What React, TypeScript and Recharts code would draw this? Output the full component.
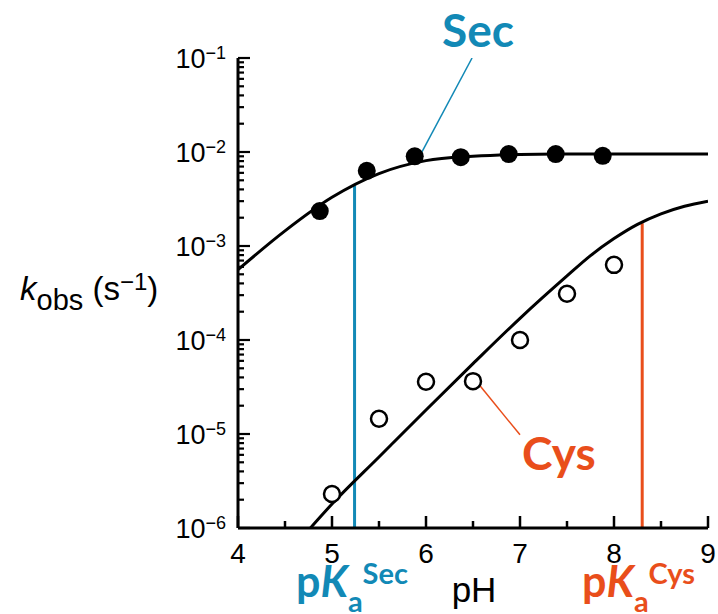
import { ComposedChart, Line, Scatter, XAxis, YAxis } from 'recharts';

// axis ticks
const PH_TICKS = [4, 4.5, 5, 5.5, 6, 6.5, 7, 7.5, 8, 8.5, 9];
const K_DECADES = [-6, -5, -4, -3, -2, -1];
const K_MINOR = [2, 3, 4, 5, 6, 7, 8, 9];

// measured rates (filled = Sec, open = Cys)
const SEC_PH = [4.87, 5.37, 5.88, 6.37, 6.88, 7.38, 7.88];
const SEC_KOBS = [2.35e-3, 6.3e-3, 9.0e-3, 8.8e-3, 9.5e-3, 9.5e-3, 9.1e-3];
const CYS_PH = [5, 5.5, 6, 6.5, 7, 7.5, 8];
const CYS_KOBS = [2.3e-6, 1.45e-5, 3.6e-5, 3.65e-5, 1.0e-4, 3.1e-4, 6.3e-4];

// fitted curves
const SEC_FIT_PH = [4, 4.5, 5, 5.5, 6, 6.5, 7, 7.5, 8, 8.5, 9];
const SEC_FIT_KOBS = [5.6e-4, 1.45e-3, 3.3e-3, 5.9e-3, 8.1e-3, 9.0e-3, 9.4e-3, 9.5e-3, 9.5e-3, 9.5e-3, 9.5e-3];
const CYS_FIT_PH = [4.77, 5, 5.5, 6, 6.5, 7, 7.5, 7.75, 8, 8.25, 8.5, 8.75, 9];
const CYS_FIT_KOBS = [1.0e-6, 1.8e-6, 5.7e-6, 1.8e-5, 5.6e-5, 1.7e-4, 4.8e-4, 7.9e-4, 1.2e-3, 1.7e-3, 2.2e-3, 2.65e-3, 3.0e-3];

// pKa markers and label leaders
const PKA_SEC_PH = [5.24, 5.24];
const PKA_SEC_KOBS = [1e-6, 4.4e-3];
const PKA_CYS_PH = [8.3, 8.3];
const PKA_CYS_KOBS = [1e-6, 1.75e-3];
const SEC_LEADER_PH = [6.49, 5.94];
const SEC_LEADER_KOBS = [1e-1, 9.3e-3];
const CYS_LEADER_PH = [6.57, 7.0];
const CYS_LEADER_KOBS = [3.3e-5, 9.8e-6];

const COLORS = {
  ink: '#000000',
  sec: '#1289b6',
  cys: '#e94e1b',
};

const AXIS_FONT = '"Liberation Sans", Arial, sans-serif';
const LABEL_FONT = 'Lato, "Open Sans", sans-serif';

const toPoints = (ph: number[], k: number[]) => ph.map((p, i) => ({ ph: p, k: k[i] }));

const K_TICKS = K_DECADES.flatMap((d) =>
  d === -1 ? [10 ** d] : [10 ** d, ...K_MINOR.map((m) => m * 10 ** d)],
);

function PhTick({ x, y, payload }: any) {
  const v = payload.value as number;
  const major = Number.isInteger(v);
  return (
    <g>
      <line x1={x} x2={x} y1={y} y2={y - (major ? 12 : 7)} stroke={COLORS.ink} strokeWidth={2.5} />
      {major && (
        <text x={x} y={y + 35} textAnchor="middle" fontSize={28} fontFamily={AXIS_FONT} fill={COLORS.ink}>
          {v}
        </text>
      )}
    </g>
  );
}

function KTick({ x, y, payload }: any) {
  const exp = Math.log10(payload.value);
  const major = Math.abs(exp - Math.round(exp)) < 1e-9;
  return (
    <g>
      <line x1={x} x2={x + (major ? 12 : 6)} y1={y} y2={y} stroke={COLORS.ink} strokeWidth={2.2} />
      {major && (
        <text x={x - 12} y={y + 10} textAnchor="end" fontSize={27} fontFamily={AXIS_FONT} fill={COLORS.ink}>
          <tspan>10</tspan>
          <tspan fontSize={18} dy={-9}>{`\u2212${-Math.round(exp)}`}</tspan>
        </text>
      )}
    </g>
  );
}

const FilledDot = ({ cx, cy }: any) => <circle cx={cx} cy={cy} r={9} fill={COLORS.ink} />;
const OpenDot = ({ cx, cy }: any) => (
  <circle cx={cx} cy={cy} r={8} fill="#fff" stroke={COLORS.ink} strokeWidth={2.5} />
);

export default function App() {
  return (
    <div style={{ position: 'absolute', left: 0, top: 0, width: 718, height: 614, background: '#fff' }}>
      <ComposedChart width={718} height={614} margin={{ top: 58, right: 10, bottom: 0, left: 0 }}>
        <XAxis
          type="number"
          dataKey="ph"
          domain={[4, 9]}
          ticks={PH_TICKS}
          interval={0}
          allowDataOverflow
          height={86}
          tickSize={0}
          tickMargin={0}
          tickLine={false}
          axisLine={{ stroke: COLORS.ink, strokeWidth: 3 }}
          tick={<PhTick />}
        />
        <YAxis
          type="number"
          dataKey="k"
          scale="log"
          domain={[1e-6, 1e-1]}
          ticks={K_TICKS}
          interval={0}
          allowDataOverflow
          width={238}
          tickSize={0}
          tickMargin={0}
          tickLine={false}
          axisLine={{ stroke: COLORS.ink, strokeWidth: 3 }}
          tick={<KTick />}
        />
        <Line data={toPoints(PKA_SEC_PH, PKA_SEC_KOBS)} dataKey="k" type="linear" stroke={COLORS.sec} strokeWidth={3} dot={false} isAnimationActive={false} />
        <Line data={toPoints(PKA_CYS_PH, PKA_CYS_KOBS)} dataKey="k" type="linear" stroke={COLORS.cys} strokeWidth={3} dot={false} isAnimationActive={false} />
        <Line data={toPoints(SEC_LEADER_PH, SEC_LEADER_KOBS)} dataKey="k" type="linear" stroke={COLORS.sec} strokeWidth={1.5} dot={false} isAnimationActive={false} />
        <Line data={toPoints(CYS_LEADER_PH, CYS_LEADER_KOBS)} dataKey="k" type="linear" stroke={COLORS.cys} strokeWidth={1.5} dot={false} isAnimationActive={false} />
        <Line data={toPoints(SEC_FIT_PH, SEC_FIT_KOBS)} dataKey="k" type="monotone" stroke={COLORS.ink} strokeWidth={3} dot={false} isAnimationActive={false} />
        <Line data={toPoints(CYS_FIT_PH, CYS_FIT_KOBS)} dataKey="k" type="monotone" stroke={COLORS.ink} strokeWidth={3} dot={false} isAnimationActive={false} />
        <Scatter data={toPoints(SEC_PH, SEC_KOBS)} dataKey="k" shape={<FilledDot />} isAnimationActive={false} />
        <Scatter data={toPoints(CYS_PH, CYS_KOBS)} dataKey="k" shape={<OpenDot />} isAnimationActive={false} />
      </ComposedChart>
      <svg width={718} height={614} style={{ position: 'absolute', left: 0, top: 0, pointerEvents: 'none' }}>
        <text x={20} y={300} fontSize={33} fontFamily={AXIS_FONT} fill={COLORS.ink}>
          <tspan fontStyle="italic">k</tspan>
          <tspan fontSize={29} dy={10}>obs</tspan>
          <tspan dy={-10}> (s</tspan>
          <tspan fontSize={24} dy={-10}>{'\u22121'}</tspan>
          <tspan dy={10}>)</tspan>
        </text>
        <text x={474} y={602} textAnchor="middle" fontSize={35} fontFamily={AXIS_FONT} fill={COLORS.ink}>
          pH
        </text>
        <text x={442} y={47} fontSize={46} fontWeight={700} fontFamily={LABEL_FONT} fill={COLORS.sec}>
          Sec
        </text>
        <text x={522} y={470} fontSize={46} fontWeight={700} fontFamily={LABEL_FONT} fill={COLORS.cys}>
          Cys
        </text>
        <text x={296} y={597} fontSize={43} fontWeight={700} fontFamily={LABEL_FONT} fill={COLORS.sec}>
          <tspan>p</tspan>
          <tspan fontStyle="italic">K</tspan>
          <tspan fontSize={29} dy={15}>a</tspan>
          <tspan fontSize={29} dy={-28}>Sec</tspan>
        </text>
        <text x={582} y={597} fontSize={43} fontWeight={700} fontFamily={LABEL_FONT} fill={COLORS.cys}>
          <tspan>p</tspan>
          <tspan fontStyle="italic">K</tspan>
          <tspan fontSize={29} dy={15}>a</tspan>
          <tspan fontSize={29} dy={-28}>Cys</tspan>
        </text>
      </svg>
    </div>
  );
}
